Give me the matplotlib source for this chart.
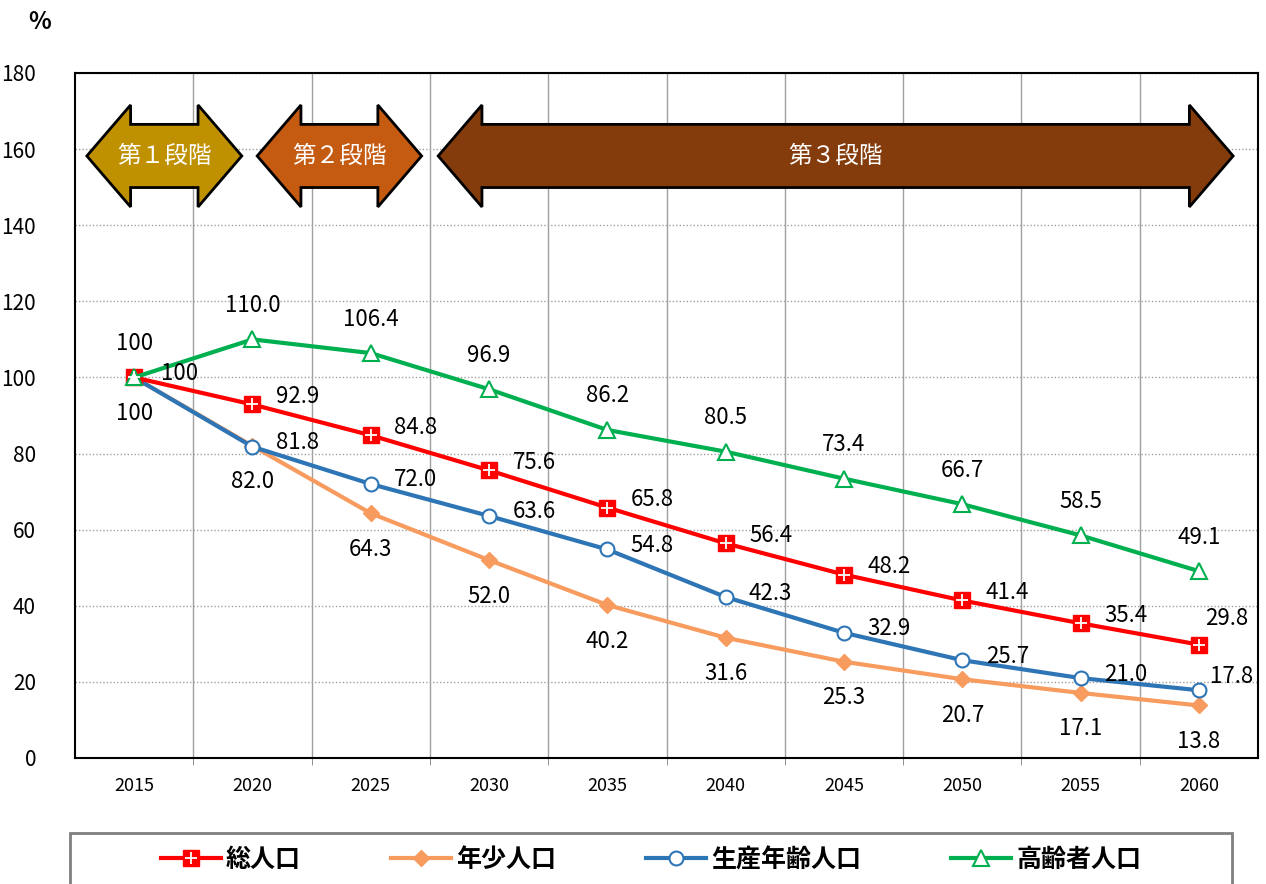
import numpy as np
import matplotlib
matplotlib.use("Agg")
import matplotlib.pyplot as plt
from matplotlib.patches import Polygon, Rectangle
from matplotlib.legend_handler import HandlerTuple

plt.rcParams['font.family'] = ['Noto Sans CJK JP', 'DejaVu Sans']

######## DATA

years = ['2015', '2020', '2025', '2030', '2035', '2040', '2045', '2050', '2055', '2060']
total = [100, 92.9, 84.8, 75.6, 65.8, 56.4, 48.2, 41.4, 35.4, 29.8]
young = [100, 82.0, 64.3, 52.0, 40.2, 31.6, 25.3, 20.7, 17.1, 13.8]
working = [100, 81.8, 72.0, 63.6, 54.8, 42.3, 32.9, 25.7, 21.0, 17.8]
elderly = [100, 110.0, 106.4, 96.9, 86.2, 80.5, 73.4, 66.7, 58.5, 49.1]
series_names = ['総人口', '年少人口', '生産年齢人口', '高齢者人口']

stage_names = ['第１段階', '第２段階', '第３段階']
stage_start = [-0.40, 1.04, 2.57]
stage_end = [0.91, 2.43, 9.29]
stage_colors = ['#BF9000', '#C55A11', '#843C0C']

######## FIGURE

fig = plt.figure(figsize=(12.66, 8.84), dpi=100)
ax = fig.add_axes([75/1266, 1-758/884, (1258-75)/1266, (758-73)/884])

x = np.arange(len(years))

RED = '#FF0000'
ORANGE = '#F79B5E'
BLUE = '#2E75B6'
GREEN = '#00B050'

l_tot, = ax.plot(x, total, color=RED, lw=3, marker='s', ms=11, mfc=RED, mec=RED, zorder=5)
l_tot2, = ax.plot(x, total, ls='none', marker='+', ms=9, mew=1.3, mec='white', zorder=6)
l_young, = ax.plot(x, young, color=ORANGE, lw=3, marker='D', ms=8, mfc=ORANGE, mec=ORANGE, zorder=3)
l_work, = ax.plot(x, working, color=BLUE, lw=3, marker='o', ms=10, mfc='white', mec=BLUE, mew=1.5, zorder=4)
l_eld, = ax.plot(x, elderly, color=GREEN, lw=3, marker='^', ms=11, mfc='white', mec=GREEN, mew=1.5, zorder=5)

# data labels (offsets in px -> points)
def put_labels(vals, dx, dy, skip_first=False, last=None):
    for i, v in enumerate(vals):
        if skip_first and i == 0:
            continue
        ox, oy = dx, dy
        if last is not None and i == len(vals) - 1:
            ox, oy = last
        txt = '100' if v == 100 else f'{v:.1f}'
        ax.annotate(txt, (x[i], v), xytext=(ox*0.72, -oy*0.72), textcoords='offset points',
                    ha='center', va='center', fontsize=16, color='black', zorder=8,
                    annotation_clip=False)

put_labels(total, 45, -8, skip_first=True, last=(28, -26))
put_labels(working, 45, -4, last=(33, -14))
put_labels(young, 0, 36)
put_labels(elderly, 0, -34)

# stage arrows
yc, body, head = 158.2, 8.3, 13.4
hl = 0.37
for name, x0, x1, c in zip(stage_names, stage_start, stage_end, stage_colors):
    pts = [(x0, yc), (x0+hl, yc+head), (x0+hl, yc+body), (x1-hl, yc+body), (x1-hl, yc+head),
           (x1, yc), (x1-hl, yc-head), (x1-hl, yc-body), (x0+hl, yc-body), (x0+hl, yc-head)]
    ax.add_patch(Polygon(pts, closed=True, facecolor=c, edgecolor='black', lw=2, zorder=7))
    ax.text((x0+x1)/2, yc, name, ha='center', va='center', color='white', fontsize=17, zorder=8)

######## AXES

ax.set_xlim(-0.5, 9.5)
ax.set_ylim(0, 180)
ax.set_yticks(np.arange(0, 181, 20))
ax.set_xticks(x)
ax.set_xticklabels(years, fontsize=13)
ax.set_xticks(np.arange(0.5, 9, 1), minor=True)
ax.tick_params(axis='x', which='major', length=0, pad=14)
ax.tick_params(axis='x', which='minor', length=5, direction='out', color='#808080')
ax.tick_params(axis='y', length=0, pad=28, labelsize=15)
ax.grid(axis='x', which='minor', color='#A0A0A0', lw=1)
ax.grid(axis='y', which='major', color='#A0A0A0', lw=1, ls=(0, (1, 1.5)))
ax.set_axisbelow(True)
for s in ax.spines.values():
    s.set_color('black')
    s.set_linewidth(1.5)

fig.text(40/1266, 1-22/884, '%', ha='center', va='center', fontsize=17, fontweight='bold')

######## LEGEND

fig.patches.append(Rectangle((70/1266, -0.05), 1162/1266, 0.05+1-833/884, transform=fig.transFigure,
                             fill=False, edgecolor='#808080', lw=2))
leg = fig.legend([(l_tot, l_tot2), l_young, l_work, l_eld], series_names,
                 handler_map={tuple: HandlerTuple(ndivide=1, pad=0)},
                 loc='center', bbox_to_anchor=(651/1266, 1-860/884), ncol=4, frameon=False,
                 prop={'size': 18, 'weight': 'bold'}, handlelength=2.4, handletextpad=0.2,
                 columnspacing=3.6)

fig.savefig('out.png', dpi=100)
